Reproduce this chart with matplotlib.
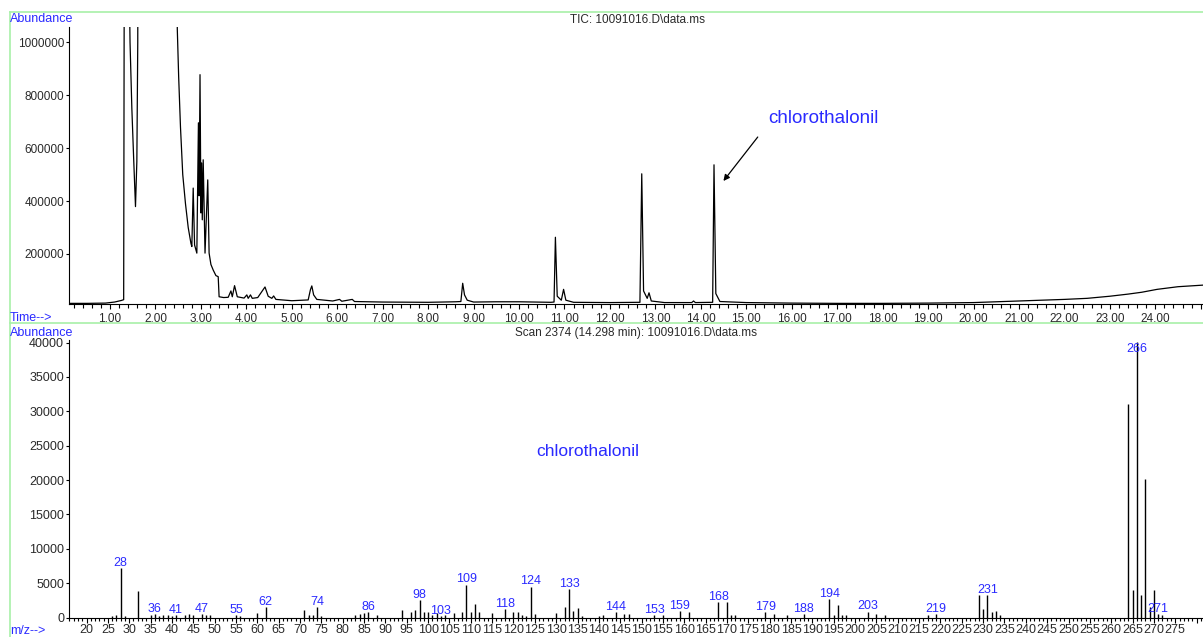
import matplotlib
matplotlib.use('Agg')
import matplotlib.pyplot as plt
from matplotlib.lines import Line2D
from matplotlib.ticker import MultipleLocator, FixedLocator

plt.rcParams['font.family'] = ['Liberation Sans', 'DejaVu Sans']

# TIC chromatogram (time in min, abundance)
tic_time = [0.10, 0.50, 0.90, 1.10, 1.25, 1.30, 1.33, 1.41, 1.44, 1.48, 1.52, 1.56, 1.59, 1.61, 1.63,
            2.45, 2.48, 2.51, 2.55, 2.60, 2.66, 2.72, 2.78, 2.80, 2.83, 2.86, 2.91, 2.945, 2.96, 2.98,
            3.00, 3.015, 3.03, 3.05, 3.09, 3.15, 3.18, 3.22, 3.27, 3.33, 3.38, 3.40, 3.50, 3.60, 3.66,
            3.69, 3.74, 3.80, 3.95, 4.01, 4.04, 4.09, 4.13, 4.25, 4.33, 4.41, 4.48, 4.56, 4.60, 4.65,
            5.00, 5.36, 5.41, 5.44, 5.48, 5.55, 5.90, 6.05, 6.10, 6.33, 6.38, 7.00, 8.00, 8.60, 8.72,
            8.76, 8.80, 8.86, 9.00, 9.50, 10.00, 10.70, 10.77, 10.80, 10.84, 10.93, 10.98, 11.03, 11.20,
            12.00, 12.66, 12.70, 12.74, 12.82, 12.86, 12.91, 13.20, 13.80, 13.84, 13.88, 14.26, 14.29,
            14.33, 14.42, 15.00, 16.00, 17.00, 18.00, 19.00, 20.00, 20.50, 21.00, 21.50, 22.00, 22.50,
            23.00, 23.40, 23.70, 24.04, 24.50, 25.05]
tic_abund = [13000, 13000, 14000, 18000, 24000, 27000, 3000000, 1400000, 1000000, 750000, 560000, 379000, 550000, 1000000, 3000000,
             3000000, 1050000, 870000, 680000, 500000, 390000, 300000, 240000, 228000, 449000, 234000, 203000, 696000, 420000, 878000,
             355000, 544000, 329000, 556000, 203000, 480000, 203000, 160000, 139000, 118000, 114000, 38000, 35000, 36000, 60000,
             38000, 80000, 38000, 33000, 45000, 32000, 45000, 32000, 35000, 55000, 75000, 40000, 32000, 41000, 28000,
             23000, 26000, 65000, 79000, 45000, 28000, 22000, 28000, 21000, 28000, 20000, 18000, 17000, 19000, 20000,
             89000, 45000, 25000, 18000, 19000, 19000, 17000, 18000, 263000, 40000, 25000, 66000, 25000, 17000,
             16000, 17000, 503000, 60000, 32000, 53000, 22000, 16000, 16000, 22000, 16000, 17000, 537000,
             50000, 20000, 16000, 14000, 13000, 13000, 14000, 16000, 19000, 22000, 25000, 28000, 32000,
             40000, 48000, 55000, 66000, 76000, 82000]

# mass spectrum, scan 2374
ms_mz = [26, 27, 28, 29, 32, 35, 36, 37, 38, 39, 40, 41, 43, 44, 45, 47, 48, 49, 55, 56, 60, 62,
         71, 72, 73, 74, 75, 83, 84, 85, 86, 88, 94, 96, 97, 98, 99, 100, 101, 102, 103, 104,
         106, 108, 109, 110, 111, 112, 115, 118, 120, 121, 122, 123, 124, 125, 130, 132, 133, 134,
         135, 136, 140, 141, 144, 146, 147, 153, 155, 159, 161, 168, 170, 171, 172, 179, 181, 184,
         188, 194, 195, 196, 197, 198, 203, 205, 207, 217, 219, 229, 230, 231, 232, 233, 234,
         264, 265, 266, 267, 268, 269, 270, 271, 272]
ms_abund = [250, 300, 7250, 250, 3900, 300, 480, 200, 300, 300, 250, 330, 300, 450, 300, 480, 300, 350, 300, 200, 700, 1500,
            1100, 350, 400, 1500, 250, 350, 450, 650, 800, 350, 1100, 870, 1100, 2600, 870, 870, 400, 600, 250, 350,
            630, 775, 4800, 870, 2000, 775, 630, 1200, 870, 870, 300, 250, 4500, 485, 630, 1600, 4100, 1000,
            1360, 250, 250, 300, 820, 485, 485, 400, 340, 970, 730, 2300, 2250, 300, 350, 730, 485, 300,
            450, 2650, 300, 1800, 300, 400, 870, 580, 390, 340, 485, 3250, 1200, 3250, 870, 970, 390,
            31000, 3950, 40100, 3300, 20100, 1600, 4050, 485, 390]
label_mz = [28, 36, 41, 47, 55, 62, 74, 86, 98, 103, 109, 118, 124, 133, 144, 153, 159, 168,
            179, 188, 194, 203, 219, 231, 266, 271]

blue = '#2a2aff'
tick_col = '#2a2a2a'
W, H = 1203, 637


def fx(px):
    return px / W


def fy(py):
    return 1 - py / H


fig = plt.figure(figsize=(W / 100, H / 100), dpi=100)

# green frames
green = '#a8f0a8'
for xs, ys in [((10, 1203), (12, 12)), ((10, 10), (12, 637)), ((10, 1203), (323, 323))]:
    fig.add_artist(Line2D([fx(x) for x in xs], [fy(y) for y in ys], color=green, lw=1.2))

# ---- top panel: TIC ----
ax1 = fig.add_axes([fx(69), fy(304), fx(1203 - 69), (304 - 26.7) / H])
ax1.plot(tic_time, tic_abund, color='black', lw=0.9)
ax1.set_xlim(0.097, 25.05)
ax1.set_ylim(10600, 1059400)
ax1.spines['top'].set_visible(False)
ax1.spines['right'].set_visible(False)
ax1.xaxis.set_major_locator(FixedLocator(list(range(1, 26))))
ax1.set_xticklabels(['%.2f' % t for t in range(1, 25)] + [''])
ax1.xaxis.set_minor_locator(MultipleLocator(0.2))
ax1.yaxis.set_major_locator(FixedLocator([200000, 400000, 600000, 800000, 1000000]))
ax1.set_yticklabels(['200000', '400000', '600000', '800000', '1000000'])
ax1.tick_params(axis='x', which='major', length=3.5, width=0.8, pad=3, labelsize=8.5, labelcolor=tick_col)
ax1.tick_params(axis='x', which='minor', length=3, width=0.8)
ax1.tick_params(axis='y', length=2.5, width=0.8, pad=1, labelsize=8.5, labelcolor=tick_col)

ax1.annotate('', xy=(14.46, 467600), xytext=(15.29, 650400),
             arrowprops=dict(arrowstyle='-|>', color='black', lw=0.9, mutation_scale=9))
ax1.text(15.48, 711000, 'chlorothalonil', color=blue, fontsize=13.5, va='center', ha='left')

fig.text(fx(637), fy(20), 'TIC: 10091016.D\\data.ms', ha='center', va='center', fontsize=8.5, color=tick_col)
fig.text(fx(10), fy(19), 'Abundance', ha='left', va='center', fontsize=9, color=blue)
fig.text(fx(10), fy(318), 'Time-->', ha='left', va='center', fontsize=9, color=blue)

# ---- bottom panel: mass spectrum ----
ax2 = fig.add_axes([fx(69), fy(617.5), fx(1203 - 69), 277 / H])
ymax = 40300
ax2.vlines(ms_mz, 0, ms_abund, color='black', lw=1.0)
ax2.set_xlim(15.9, 281.5)
ax2.set_ylim(0, ymax)
ax2.spines['top'].set_visible(False)
ax2.spines['right'].set_visible(False)
ax2.xaxis.set_major_locator(FixedLocator(list(range(20, 285, 5))))
ax2.set_xticklabels([str(m) for m in range(20, 280, 5)] + [''])
ax2.xaxis.set_minor_locator(MultipleLocator(1))
ax2.yaxis.set_major_locator(MultipleLocator(5000))
ax2.tick_params(axis='x', which='major', length=3.5, width=0.8, pad=1.5, labelsize=9, labelcolor=tick_col)
ax2.tick_params(axis='x', which='minor', length=2.5, width=0.8)
ax2.tick_params(axis='y', length=2.5, width=0.8, pad=1, labelsize=9, labelcolor=tick_col)

for m in label_mz:
    v = ms_abund[ms_mz.index(m)]
    if v > 0.9 * ymax:
        ax2.annotate(str(m), (m, ymax), xytext=(0, -1.5), textcoords='offset points',
                     ha='center', va='top', fontsize=9, color=blue)
    else:
        ax2.annotate(str(m), (m, v), xytext=(0, 1.5), textcoords='offset points',
                     ha='center', va='baseline', fontsize=9, color=blue)

ax2.text(137.4, 24200, 'chlorothalonil', color=blue, fontsize=12.5, ha='center', va='center')

fig.text(fx(636), fy(333), 'Scan 2374 (14.298 min): 10091016.D\\data.ms', ha='center', va='center',
         fontsize=8.5, color=tick_col)
fig.text(fx(10), fy(333), 'Abundance', ha='left', va='center', fontsize=9, color=blue)
fig.text(fx(10), fy(631), 'm/z-->', ha='left', va='center', fontsize=9, color=blue)

fig.savefig('out.png', dpi=100)
plt.close(fig)
